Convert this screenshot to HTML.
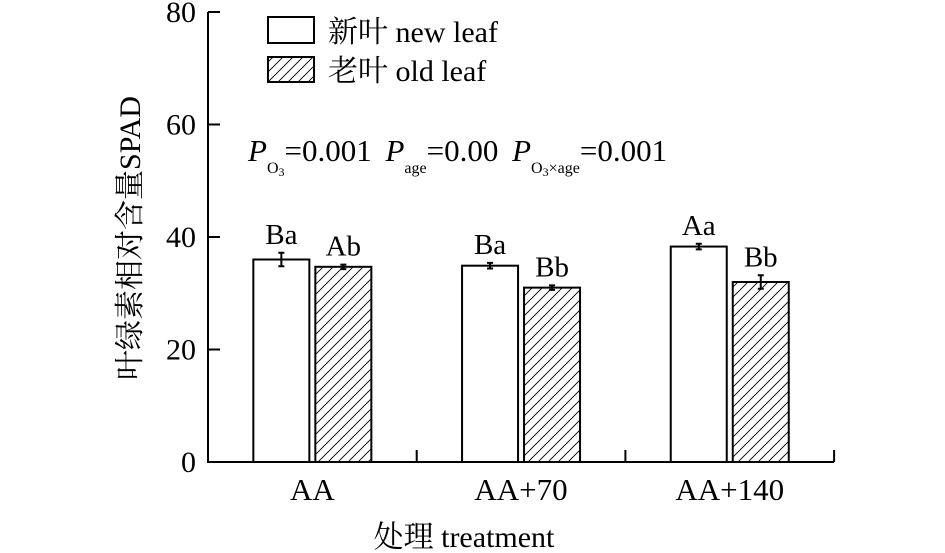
<!DOCTYPE html>
<html><head><meta charset="utf-8"><style>
body{margin:0;background:#fff}
svg text{font-family:"Liberation Serif","Noto Serif CJK SC",serif;fill:#000}
</style></head><body>
<svg width="945" height="553" viewBox="0 0 945 553" xmlns="http://www.w3.org/2000/svg" style="position:absolute;left:0;top:0">
<defs>
<pattern id="hatch" patternUnits="userSpaceOnUse" width="10" height="10">
<path d="M-1,11 L11,-1 M-3,3 L3,-3 M7,13 L13,7" stroke="#000" stroke-width="0.9"/>
</pattern>
</defs>
<g id="chart"></g>
<g>
<rect x="268" y="17" width="46" height="26" fill="#fff" stroke="#000" stroke-width="2"/>
<text x="328" y="42" font-size="30">新叶 new leaf</text>
<rect x="268" y="57" width="46" height="25" fill="url(#hatch)" stroke="#000" stroke-width="2"/>
<text x="328" y="81" font-size="30">老叶 old leaf</text>
</g>
<text x="248" y="161" font-size="31"><tspan font-style="italic">P</tspan><tspan font-size="16" dy="12">O</tspan><tspan font-size="12" dy="3">3</tspan><tspan dy="-15">=0.001 </tspan><tspan font-style="italic" dx="6">P</tspan><tspan font-size="16" dy="12">age</tspan><tspan dy="-12">=0.00 </tspan><tspan font-style="italic" dx="6">P</tspan><tspan font-size="16" dy="12">O</tspan><tspan font-size="12" dy="3">3</tspan><tspan font-size="16" dy="-3">×age</tspan><tspan dy="-12">=0.001</tspan></text>
<text transform="translate(140,238) rotate(-90)" text-anchor="middle" font-size="30">叶绿素相对含量SPAD</text>
<text x="464" y="547" text-anchor="middle" font-size="30">处理 treatment</text>
</svg>
<script>
const categories=["AA","AA+70","AA+140"];
const newLeaf=[36.0,34.9,38.3];
const newErr=[1.2,0.5,0.5];
const oldLeaf=[34.7,31.0,32.0];
const oldErr=[0.4,0.4,1.2];
const newLabels=["Ba","Ba","Aa"];
const oldLabels=["Ab","Bb","Bb"];
const yTicks=[0,20,40,60,80];

const NS="http://www.w3.org/2000/svg";
const g=document.getElementById('chart');
const x0=208,y0=462,pxPerUnit=5.625,groupW=208.7,barW=56;
const y=v=>y0-v*pxPerUnit;
const gx=i=>x0+groupW*(i+0.5);
function el(tag,attrs,text){const e=document.createElementNS(NS,tag);for(const k in attrs)e.setAttribute(k,attrs[k]);if(text!==undefined)e.textContent=text;g.appendChild(e);return e;}

let a=el('line',{x1:x0,y1:y(80),x2:x0,y2:y0+1,stroke:'#000','stroke-width':2});


a=el('line',{x1:x0-1,y1:y0,x2:x0+groupW*3,y2:y0,stroke:'#000','stroke-width':2});


yTicks.forEach(t=>{
  const l=el('line',{x1:x0,y1:y(t),x2:x0+12,y2:y(t),stroke:'#000','stroke-width':2});
  
  
  const tx=el('text',{x:196,y:y(t)+10,'text-anchor':'end','font-size':30},String(t));
  
  
});
for(let i=1;i<=3;i++){
  const l=el('line',{x1:x0+groupW*i,y1:y0,x2:x0+groupW*i,y2:y0-12,stroke:'#000','stroke-width':2});
  
  
}
function bar(cx,val,err,fill,label,name){
  const r=el('rect',{x:cx,y:y(val),width:barW,height:y0-y(val),fill:fill,stroke:'#000','stroke-width':2});
  
  
  const m=cx+barW/2;
  const e=el('path',{d:`M${m},${y(val+err)}V${y(val-err)}M${m-3},${y(val+err)}H${m+3}M${m-3},${y(val-err)}H${m+3}`,stroke:'#000','stroke-width':2,fill:'none'});
  
  
  const t=el('text',{x:m,y:y(val+err)-9,'text-anchor':'middle','font-size':29},label);
  
  
}
categories.forEach((c,i)=>{
  const cx=gx(i);
  bar(cx-59,newLeaf[i],newErr[i],'#fff',newLabels[i],'bar-new-leaf');
  bar(cx+3,oldLeaf[i],oldErr[i],'url(#hatch)',oldLabels[i],'bar-old-leaf');
  const t=el('text',{x:cx,y:500,'text-anchor':'middle','font-size':31},c);
  
  
});
</script>
</body></html>
